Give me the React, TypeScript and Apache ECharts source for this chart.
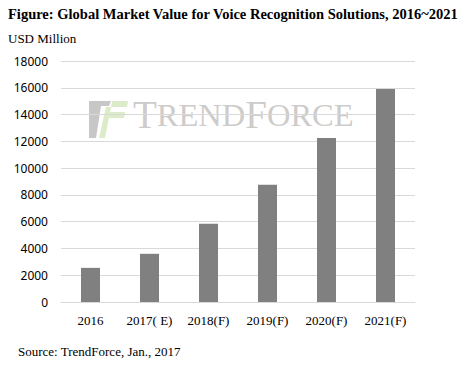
import React, { useEffect, useRef } from "react";
import * as echarts from "echarts";

const categories = ["2016", "2017( E)", "2018(F)", "2019(F)", "2020(F)", "2021(F)"];
const values = [2550, 3600, 5850, 8750, 12250, 15900];
const yTicks = [0, 2000, 4000, 6000, 8000, 10000, 12000, 14000, 16000, 18000];

const titleText = "Figure: Global Market Value for Voice Recognition Solutions, 2016~2021";
const unitText = "USD Million";
const sourceText = "Source: TrendForce, Jan., 2017";

export default function App() {
  const ref = useRef<HTMLDivElement>(null);
  useEffect(() => {
    if (!ref.current) return;
    const chart = echarts.init(ref.current, undefined, { renderer: "svg" });
    chart.setOption({
      animation: false,
      backgroundColor: "#ffffff",
      grid: { left: 61, right: 50, top: 61, bottom: 68 },
      xAxis: {
        type: "category",
        data: categories,
        axisLine: { lineStyle: { color: "#d9d9d9" } },
        axisTick: { show: false },
        axisLabel: { interval: 0, color: "#000", fontFamily: "Liberation Serif", fontSize: 13, margin: 12 },
      },
      yAxis: {
        type: "value",
        min: yTicks[0],
        max: yTicks[yTicks.length - 1],
        interval: 2000,
        axisLine: { show: false },
        axisTick: { show: false },
        splitLine: { lineStyle: { color: "#d9d9d9" } },
        axisLabel: { color: "#000", fontFamily: "Noto Sans", fontSize: 12, margin: 13, formatter: (v: number) => String(v) },
      },
      graphic: [
        { type: "text", left: 8, top: 6, style: { text: titleText, font: "bold 14.5px 'Liberation Serif'", fill: "#000" } },
        { type: "text", left: 8, top: 32, style: { text: unitText, font: "13px 'Liberation Serif'", fill: "#000" } },
        { type: "text", left: 18, top: 345, style: { text: sourceText, font: "13px 'Liberation Serif'", fill: "#000" } },
        {
          type: "group",
          z: 100,
          children: [
            { type: "polygon", shape: { points: [[89, 101], [111, 101], [109, 106], [101, 106], [96, 138], [89, 138]] }, style: { fill: "#c9c6c6" } },
            { type: "polygon", shape: { points: [[112, 101], [128, 101], [127, 107], [111, 107]] }, style: { fill: "#dcebc8" } },
            { type: "polygon", shape: { points: [[110, 112], [125, 112], [124, 118], [109, 118]] }, style: { fill: "#dcebc8" } },
            { type: "polygon", shape: { points: [[106, 107], [111, 107], [105, 138], [99, 138]] }, style: { fill: "#dcebc8" } },
            {
              type: "text",
              x: 133,
              y: 134,
              style: {
                text: "{b|T}{s|REND}{b|F}{s|ORCE}",
                verticalAlign: "bottom",
                rich: {
                  b: { font: "39px 'Liberation Serif'", fill: "#c8c4c4" },
                  s: { font: "32.5px 'Liberation Serif'", fill: "#c8c4c4" },
                },
                opacity: 0.9,
              },
            },
          ],
        },
      ],
      series: [
        {
          type: "bar",
          data: values,
          barWidth: 19,
          itemStyle: { color: "#808080" },
          z: 2,
        },
      ],
    });
    return () => chart.dispose();
  }, []);
  return <div ref={ref} style={{ width: 465, height: 370, position: "absolute", left: 0, top: 0 }} />;
}
